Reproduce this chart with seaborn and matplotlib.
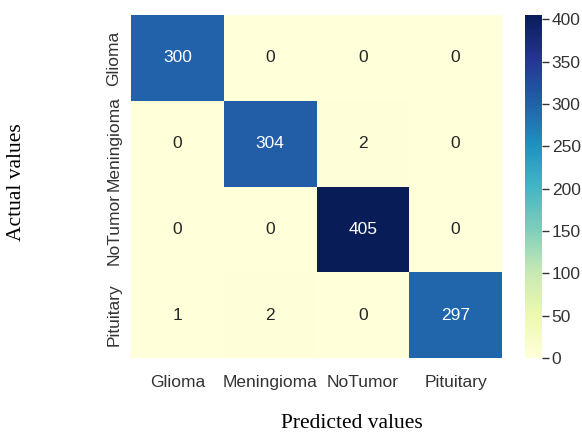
import numpy as np
import pandas as pd
import matplotlib
matplotlib.use("Agg")
import matplotlib.pyplot as plt
import seaborn as sns

classes = ["Glioma", "Meningioma", "NoTumor", "Pituitary"]
glioma_row = [300, 0, 0, 0]
meningioma_row = [0, 304, 2, 0]
notumor_row = [0, 0, 405, 0]
pituitary_row = [1, 2, 0, 297]
cbar_ticks = [0, 50, 100, 150, 200, 250, 300, 350, 400]

cm = pd.DataFrame([glioma_row, meningioma_row, notumor_row, pituitary_row],
                  index=classes, columns=classes)

sns.set_theme(style="white")
plt.rcParams["font.family"] = ["Liberation Sans", "DejaVu Sans"]

fig = plt.figure(figsize=(5.82, 4.34), dpi=100)
ax = fig.add_axes([131 / 582, 1 - 358 / 434, 371 / 582, 343 / 434])
cax = fig.add_axes([525 / 582, 1 - 358 / 434, 17 / 582, 343 / 434])

sns.heatmap(cm, annot=True, fmt="d", cmap="YlGnBu", ax=ax, cbar_ax=cax,
            annot_kws={"fontsize": 12.5})

ax.tick_params(axis="both", length=0, labelsize=12.5, colors="#333333")
ax.tick_params(axis="x", pad=12)
ax.tick_params(axis="y", pad=7)
plt.setp(ax.get_yticklabels(), rotation=90, va="center")

ax.set_xlabel("Predicted values", fontfamily="Liberation Serif", fontsize=15.5,
              color="black", va="center")
ax.set_ylabel("Actual values", fontfamily="Liberation Serif", fontsize=15.5,
              color="black", va="center")
ax.xaxis.set_label_coords((352 - 131) / 371, (358 - 423) / 343)
ax.yaxis.set_label_coords((16 - 131) / 371, (358 - 182) / 343)

cax.tick_params(axis="y", length=5, width=1, labelsize=12.5, colors="#333333",
                left=False, right=True, pad=2)
cax.set_yticks(cbar_ticks)

fig.savefig("out.png", dpi=100, facecolor="white")
